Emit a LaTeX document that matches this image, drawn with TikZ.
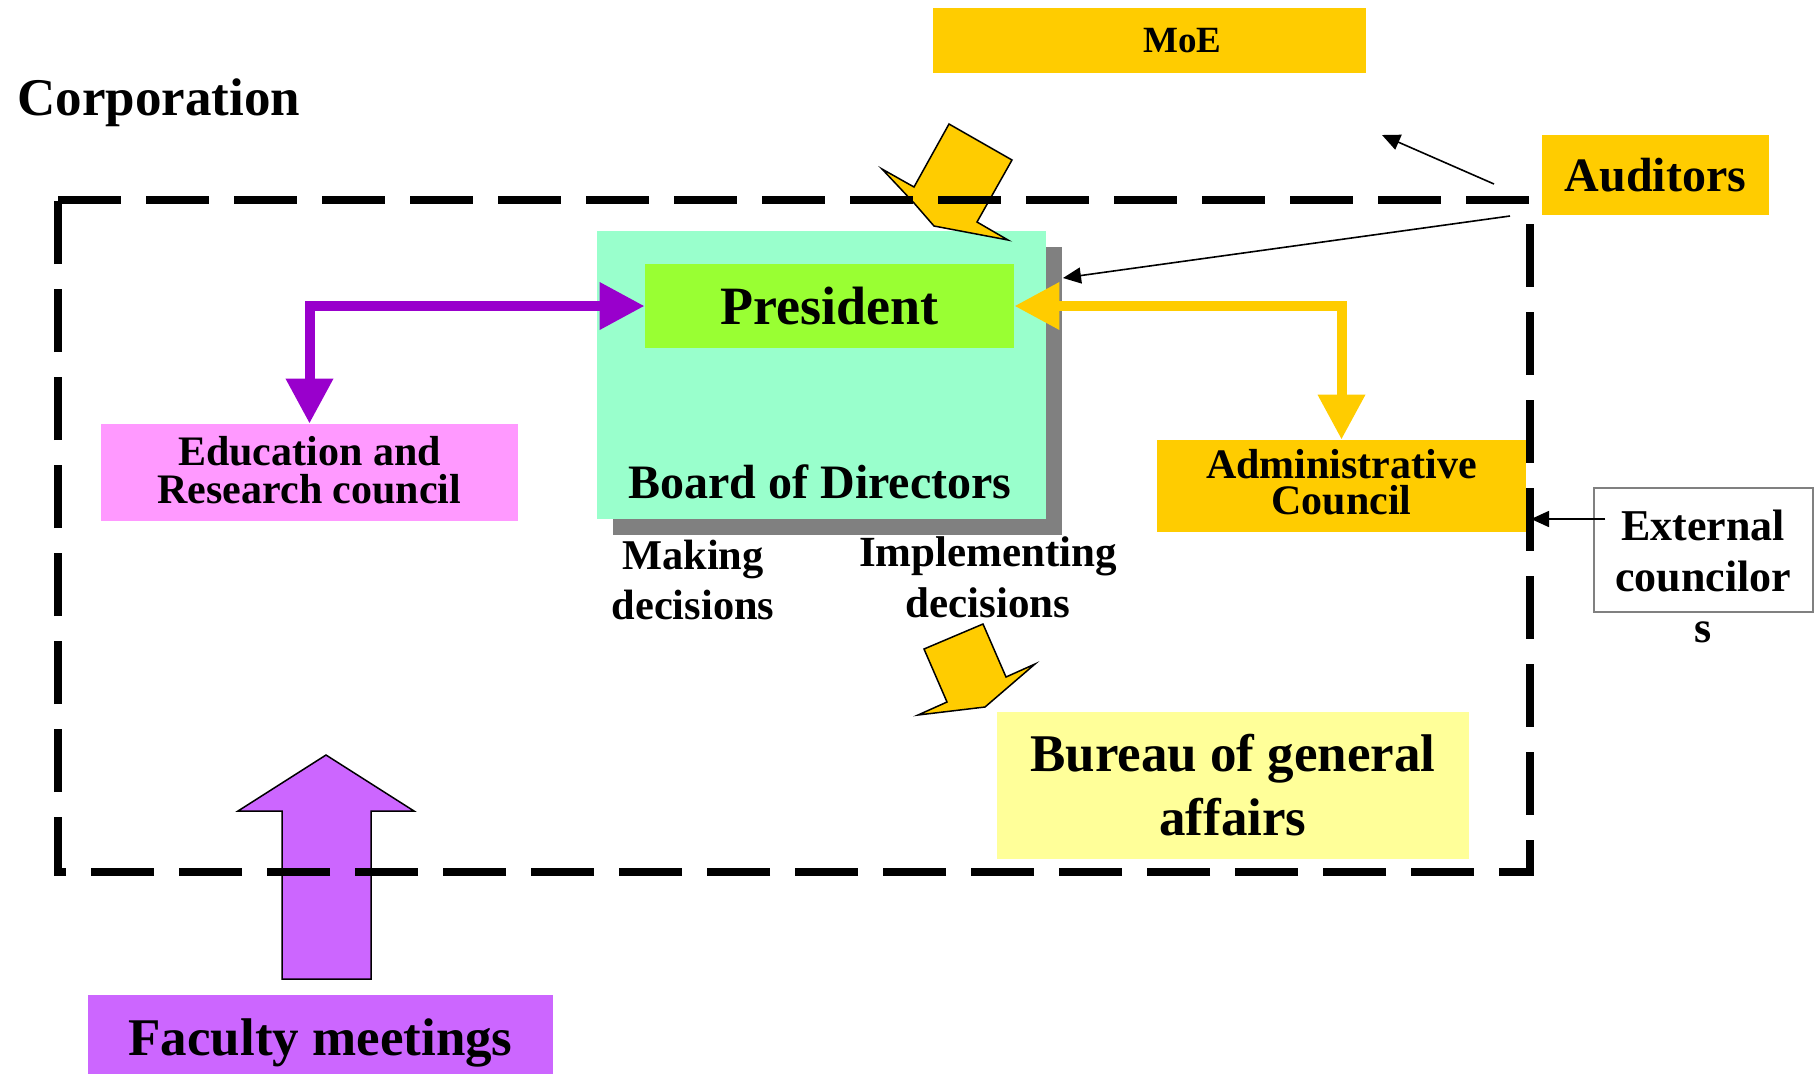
\documentclass[tikz,border=0pt]{standalone}
\usepackage{fontspec}
\setmainfont{Liberation Serif}
\usetikzlibrary{arrows.meta}

\definecolor{gold}{HTML}{FFCC00}
\definecolor{boardgreen}{HTML}{99FFCC}
\definecolor{presgreen}{HTML}{99FF33}
\definecolor{edupink}{HTML}{FF99FF}
\definecolor{linkpurple}{HTML}{9900CC}
\definecolor{facviolet}{HTML}{CC66FF}
\definecolor{paleyellow}{HTML}{FFFF99}
\definecolor{shadowgray}{HTML}{808080}

\newcommand\setfs[2]{\fontsize{#1}{#2}\selectfont\bfseries}

\begin{document}
\begin{tikzpicture}[x=0.5pt,y=-0.5pt,
  fbox/.style={rectangle, inner sep=0pt, align=center},
  txt/.style={inner sep=0pt, align=center},
  blockarrow/.style={draw=black, line width=0.75pt, line join=miter},
  conn/.style={line width=5pt, line join=miter,
    {Triangle[length=22.5pt,width=22.5pt]}-{Triangle[length=22.5pt,width=22.5pt]}},
  thinarrow/.style={draw=black, line width=0.8pt, -{Triangle[length=9pt,width=8pt]}},
  boundary/.style={draw=black, line width=4pt, dash pattern=on 31.5pt off 12.5pt}
]
\useasboundingbox (0,0) rectangle (1814,1073);

% title of the enclosing corporation
\node[txt, font=\setfs{26.5}{30}, anchor=base west] (corp) at (17,115) {Corporation};

% board of directors with drop shadow
\node[fbox, fill=shadowgray, minimum width=224.5pt, minimum height=144pt] (shadow) at (837.5,391) {};
\node[fbox, fill=boardgreen, minimum width=224.5pt, minimum height=144pt] (board) at (821.5,375) {};
\node[txt, font=\setfs{24}{28}, anchor=base] (boardlbl) at (820,498) {Board of Directors};

% block arrows
\draw[blockarrow, fill=gold] (949,124) -- (1012,160) -- (977,222) -- (1008,240)
  -- (934,226) -- (914,203) -- (882,169) -- (914,187) -- cycle;
\draw[blockarrow, fill=gold] (924,649) -- (983,624) -- (1006,677) -- (1035,664)
  -- (985,707) -- (918,715) -- (947,702) -- cycle;
\draw[blockarrow, fill=facviolet] (326,755) -- (414,811) -- (371,811) -- (371,979)
  -- (282,979) -- (282,811) -- (238,811) -- cycle;

% corporation boundary
\draw[boundary] (58,200) -- (1530,200) -- (1530,872) -- (58,872) -- cycle;

% boxes
\node[fbox, fill=gold, minimum width=216.5pt, minimum height=32.5pt, font=\setfs{18.5}{22}] (moe) at (1149.5,40.5) {\hspace*{33pt}MoE};
\node[fbox, fill=gold, minimum width=113.5pt, minimum height=40pt, font=\setfs{24}{28}] (aud) at (1655.5,175) {Auditors};
\node[fbox, fill=edupink, minimum width=208.5pt, minimum height=48.5pt, text depth=2.4pt, font=\setfs{21}{19}] (edu) at (309.5,472.5) {Education and\\Research council};
\node[fbox, fill=gold, minimum width=184.5pt, minimum height=46pt, text depth=3.6pt, font=\setfs{21}{18}] (admin) at (1341.5,486) {Administrative\\Council};
\node[fbox, draw=shadowgray, line width=0.6pt, fill=white, minimum width=109.5pt, minimum height=62pt] (ext) at (1703.5,550) {};
\node[txt, font=\setfs{22}{25.5}] (extlbl) at (1703,576) {External\\councilor\\s};
\node[fbox, fill=paleyellow, minimum width=236pt, minimum height=73.5pt, font=\setfs{26.5}{32}] (bureau) at (1233,785.5) {Bureau of general\\affairs};
\node[fbox, fill=facviolet, minimum width=232.5pt, minimum height=48pt, font=\setfs{26.5}{30}] (faculty) at (320.5,1043) {Faculty meetings};
\node[fbox, fill=presgreen, minimum width=184.5pt, minimum height=42pt, font=\setfs{27}{32}] (pres) at (829.5,306) {President};

% decision labels
\node[txt, font=\setfs{21.2}{25}] (making) at (693,580) {Making\\decisions};
\node[txt, font=\setfs{21.5}{25.5}] (impl) at (988,577) {Implementing\\decisions};

% connectors
\draw[conn, linkpurple] (edu.north) |- (pres.west);
\draw[conn, gold] (pres.east) -| (admin.north);

\coordinate (a1s) at (1494,184);
\coordinate (a1e) at (1382,135);
\coordinate (a2s) at (1510,216);
\coordinate (a2e) at (1063,278);
\coordinate (extin) at (1531,519);
\draw[thinarrow] (a1s) -- (a1e);
\draw[thinarrow] (a2s) -- (a2e);
\draw[thinarrow] ([xshift=6pt]ext.west |- extin) -- (extin);
\end{tikzpicture}
\end{document}
